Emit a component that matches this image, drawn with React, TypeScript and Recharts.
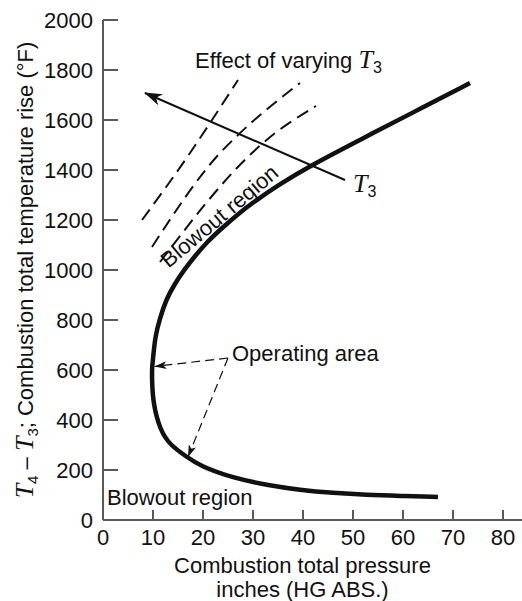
import React from 'react';
import { ComposedChart, Line, XAxis, YAxis, ReferenceDot } from 'recharts';

const INK = '#111';
const AXIS = '#5a5a5a';
const FONT = '"Liberation Sans", Arial, Helvetica, sans-serif';
const MATH = '"Liberation Serif", "DejaVu Serif", serif';
const FS = 22;

const pressureTicks = [0, 10, 20, 30, 40, 50, 60, 70, 80];
const riseTicks = [0, 200, 400, 600, 800, 1000, 1200, 1400, 1600, 1800, 2000];

// blowout boundary, from the right end of the lower branch round the nose to the upper end
const boundaryPressure = [67, 59.4, 52.8, 46, 39.4, 32.8, 26, 19.4, 16.8, 13.4, 11.4, 10, 9.8, 9.8, 10, 10.4, 11.4, 12.6, 14.2, 16.2, 18.4, 20.8, 23.8, 27, 30.4, 35.4, 41.7, 52, 62, 73.4];
const boundaryRise = [92, 96, 100, 108, 120, 140, 168, 216, 252, 300, 360, 468, 560, 612, 640, 732, 808, 880, 940, 1000, 1056, 1112, 1168, 1224, 1276, 1344, 1420, 1527, 1630, 1748];

// dashed boundaries for other T3 values
const t3LowPressure = [7.8, 17.4, 21.4, 27];
const t3LowRise = [1200, 1468, 1588, 1760];
const t3MidPressure = [9.8, 23.4, 27, 39.4];
const t3MidRise = [1092, 1468, 1540, 1748];
const t3HighPressure = [11.4, 29.8, 32, 42.6];
const t3HighRise = [1032, 1468, 1508, 1656];

// arrow showing increasing T3 (tail -> head)
const t3ArrowPressure = [48.4, 8.4];
const t3ArrowRise = [1360, 1708];

// "Operating area" leaders (start -> arrow head)
const leaderUpperPressure = [25, 10.3];
const leaderUpperRise = [648, 614];
const leaderLowerPressure = [25, 17];
const leaderLowerRise = [648, 252];

// text anchors [pressure, rise]
const effectAt = [18.4, 1808];
const t3At = [50, 1312];
const blowoutUpperAt = [13.1, 1005];
const operatingAt = [25.8, 636];
const blowoutLowerAt = [0.8, 60];

const rows = (xs: number[], ys: number[]) => xs.map((x, i) => ({ x, y: ys[i] }));

const YTick = (props: any) => {
  const { x, y, payload } = props;
  return (
    <g>
      <line x1={x + 10} x2={x + 25} y1={y} y2={y} stroke={AXIS} strokeWidth={2} />
      <text x={x} y={y} dy="0.36em" textAnchor="end" fontFamily={FONT} fontSize={FS} fill={INK}>
        {payload.value}
      </text>
    </g>
  );
};

const XTick = (props: any) => {
  const { x, y, payload } = props;
  return (
    <g>
      <line x1={x} x2={x} y1={y - 10} y2={y - 20} stroke={AXIS} strokeWidth={2} />
      <text x={x} y={y} dy="0.7em" textAnchor="middle" fontFamily={FONT} fontSize={FS} fill={INK}>
        {payload.value}
      </text>
    </g>
  );
};

const YTitle = (props: any) => {
  const vb = props.viewBox ?? { x: 0, y: 20, width: 103, height: 500 };
  const cx = vb.x + 33;
  const cy = vb.y + vb.height / 2;
  return (
    <text transform={`translate(${cx},${cy}) rotate(-90)`} textAnchor="middle" fontFamily={FONT} fontSize={FS} fill={INK}>
      <tspan fontFamily={MATH} fontStyle="italic" fontSize={26}>T</tspan>
      <tspan fontSize={15} dy={5}>4</tspan>
      <tspan dy={-5}> – </tspan>
      <tspan fontFamily={MATH} fontStyle="italic" fontSize={26}>T</tspan>
      <tspan fontSize={15} dy={5}>3</tspan>
      <tspan dy={-5}>; Combustion total temperature rise (°F)</tspan>
    </text>
  );
};

const XTitle = (props: any) => {
  const vb = props.viewBox ?? { x: 103, y: 520, width: 419, height: 81 };
  const cx = vb.x + vb.width / 2 - 10;
  return (
    <g fontFamily={FONT} fontSize={FS} fill={INK}>
      <text x={cx} y={vb.y + 53} textAnchor="middle">Combustion total pressure</text>
      <text x={cx} y={vb.y + 77} textAnchor="middle">inches (HG ABS.)</text>
    </g>
  );
};

const EffectText = ({ cx, cy }: any) => (
  <text x={cx} y={cy} fontFamily={FONT} fontSize={FS} fill={INK}>
    Effect of varying{' '}
    <tspan fontFamily={MATH} fontStyle="italic" fontSize={26}>T</tspan>
    <tspan fontSize={16} dy={5}>3</tspan>
  </text>
);

const T3Text = ({ cx, cy }: any) => (
  <text x={cx} y={cy} fontFamily={MATH} fontSize={26} fill={INK}>
    <tspan fontStyle="italic">T</tspan>
    <tspan fontFamily={FONT} fontSize={16} dy={5}>3</tspan>
  </text>
);

// baseline starts at the anchor and runs up along the boundary
const BlowoutUpperText = ({ cx, cy }: any) => (
  <text x={cx} y={cy} transform={`rotate(-40, ${cx}, ${cy})`} fontFamily={FONT} fontSize={FS} fill={INK}>
    Blowout region
  </text>
);

const PlainText = ({ cx, cy, label }: any) => (
  <text x={cx} y={cy} fontFamily={FONT} fontSize={FS} fill={INK}>
    {label}
  </text>
);

export default function App() {
  return (
    <div style={{ position: 'absolute', left: 0, top: 0, width: 522, height: 601, background: '#fff' }}>
      <svg width={0} height={0} style={{ position: 'absolute' }}>
        <defs>
          <marker id="headBig" viewBox="0 0 18 12" refX={17} refY={6} markerWidth={18} markerHeight={12} markerUnits="userSpaceOnUse" orient="auto">
            <path d="M0,0 L18,6 L0,12 L5,6 Z" fill={INK} />
          </marker>
          <marker id="headSmall" viewBox="0 0 12 8" refX={12} refY={4} markerWidth={12} markerHeight={8} markerUnits="userSpaceOnUse" orient="auto">
            <path d="M0,0 L12,4 L0,8 L3,4 Z" fill={INK} />
          </marker>
        </defs>
      </svg>
      <ComposedChart width={522} height={601} margin={{ top: 20, right: 0, bottom: 0, left: 0 }}>
        <XAxis
          type="number"
          dataKey="x"
          domain={[0, 83.8]}
          ticks={pressureTicks}
          interval={0}
          allowDataOverflow
          height={81}
          tickSize={0}
          tickMargin={10}
          tickLine={false}
          axisLine={{ stroke: AXIS, strokeWidth: 2 }}
          tick={<XTick />}
          label={<XTitle />}
        />
        <YAxis
          type="number"
          domain={[0, 2000]}
          ticks={riseTicks}
          interval={0}
          allowDataOverflow
          width={103}
          tickSize={0}
          tickMargin={10}
          tickLine={false}
          axisLine={{ stroke: AXIS, strokeWidth: 2 }}
          tick={<YTick />}
          label={<YTitle />}
        />
        <Line data={rows(t3LowPressure, t3LowRise)} dataKey="y" type="monotone" stroke={INK} strokeWidth={2} strokeDasharray="13 7" dot={false} activeDot={false} isAnimationActive={false} />
        <Line data={rows(t3MidPressure, t3MidRise)} dataKey="y" type="monotone" stroke={INK} strokeWidth={2} strokeDasharray="13 7" dot={false} activeDot={false} isAnimationActive={false} />
        <Line data={rows(t3HighPressure, t3HighRise)} dataKey="y" type="monotone" stroke={INK} strokeWidth={2} strokeDasharray="13 7" dot={false} activeDot={false} isAnimationActive={false} />
        <Line data={rows(boundaryPressure, boundaryRise)} dataKey="y" type="basis" stroke={INK} strokeWidth={4.5} dot={false} activeDot={false} isAnimationActive={false} />
        <Line data={rows(t3ArrowPressure, t3ArrowRise)} dataKey="y" type="linear" stroke={INK} strokeWidth={2} markerEnd="url(#headBig)" dot={false} activeDot={false} isAnimationActive={false} />
        <Line data={rows(leaderUpperPressure, leaderUpperRise)} dataKey="y" type="linear" stroke={INK} strokeWidth={1.2} strokeDasharray="9 5" markerEnd="url(#headSmall)" dot={false} activeDot={false} isAnimationActive={false} />
        <Line data={rows(leaderLowerPressure, leaderLowerRise)} dataKey="y" type="linear" stroke={INK} strokeWidth={1.2} strokeDasharray="9 5" markerEnd="url(#headSmall)" dot={false} activeDot={false} isAnimationActive={false} />
        <ReferenceDot x={effectAt[0]} y={effectAt[1]} r={0} ifOverflow="visible" shape={(p: any) => <EffectText cx={p.cx} cy={p.cy} />} />
        <ReferenceDot x={t3At[0]} y={t3At[1]} r={0} ifOverflow="visible" shape={(p: any) => <T3Text cx={p.cx} cy={p.cy} />} />
        <ReferenceDot x={blowoutUpperAt[0]} y={blowoutUpperAt[1]} r={0} ifOverflow="visible" shape={(p: any) => <BlowoutUpperText cx={p.cx} cy={p.cy} />} />
        <ReferenceDot x={operatingAt[0]} y={operatingAt[1]} r={0} ifOverflow="visible" shape={(p: any) => <PlainText cx={p.cx} cy={p.cy} label="Operating area" />} />
        <ReferenceDot x={blowoutLowerAt[0]} y={blowoutLowerAt[1]} r={0} ifOverflow="visible" shape={(p: any) => <PlainText cx={p.cx} cy={p.cy} label="Blowout region" />} />
      </ComposedChart>
    </div>
  );
}
